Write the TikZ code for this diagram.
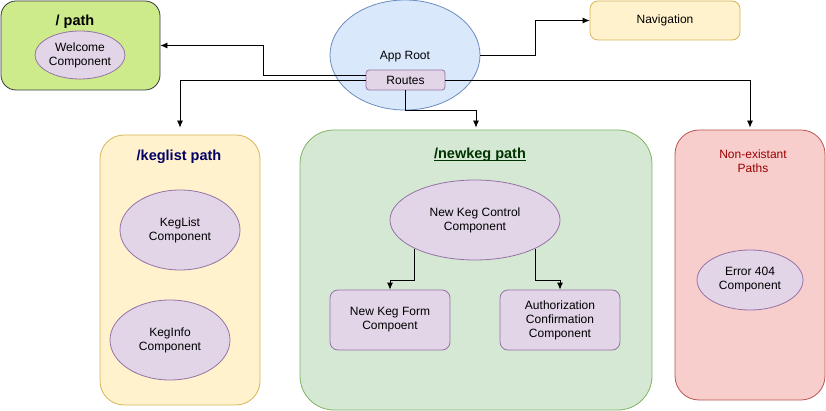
\documentclass[tikz,border=0pt]{standalone}
\usepackage{fontspec}
\setmainfont{Liberation Sans}
\usetikzlibrary{shapes.geometric,arrows.meta}

\definecolor{lime}{HTML}{CDEB8B}
\definecolor{limeline}{HTML}{36393D}
\definecolor{sky}{HTML}{DAE8FC}
\definecolor{skyline}{HTML}{6C8EBF}
\definecolor{lilac}{HTML}{E1D5E7}
\definecolor{lilacline}{HTML}{9673A6}
\definecolor{sand}{HTML}{FFF2CC}
\definecolor{sandline}{HTML}{D6B656}
\definecolor{mint}{HTML}{D5E8D4}
\definecolor{mintline}{HTML}{82B366}
\definecolor{rose}{HTML}{F8CECC}
\definecolor{roseline}{HTML}{B85450}

\tikzset{
  group/.style={draw, line width=0.8pt, inner sep=0pt},
  comp/.style={ellipse, draw=lilacline, fill=lilac, line width=0.8pt, inner sep=0pt, align=center},
  compbox/.style={draw=lilacline, fill=lilac, line width=0.8pt, rounded corners=8pt, inner sep=0pt, align=center},
  title/.style={font=\fontsize{14.5}{16}\selectfont\bfseries, align=center},
  link/.style={-{Latex[length=7pt,width=6pt]}, line width=0.8pt}
}

\begin{document}
\begin{tikzpicture}[x=1pt,y=-1pt,font=\fontsize{12}{14}\selectfont]
\useasboundingbox (0,0) rectangle (826,411);
% groups
\node[group, draw=limeline, fill=lime, rounded corners=15pt, minimum width=159pt, minimum height=89pt] (slash) at (80.5,45.5) {};
\node[group, draw=sandline, fill=sand, rounded corners=24pt, minimum width=160pt, minimum height=270pt] (keglist) at (180,270) {};
\node[group, draw=mintline, fill=mint, rounded corners=34pt, minimum width=352pt, minimum height=280pt] (newkeg) at (476,270) {};
\node[group, draw=roseline, fill=rose, rounded corners=24pt, minimum width=150pt, minimum height=270pt] (nonex) at (750,265) {};
\node[title] (slashT) at (75,22) {/ path};
\node[title, text=blue!40!black] (keglistT) at (179,157) {/keglist path};
\node[title, text=green!20!black] (newkegT) at (480,160) {\underline{\smash{/newkeg path}}};
\node[align=center, text=red!60!black] (nonexT) at (753,161) {Non-existant\\Paths};
% top
\node[ellipse, draw=skyline, fill=sky, line width=0.8pt, minimum width=150pt, minimum height=110pt, inner sep=0pt] (root) at (405,55) {};
\node (rootT) at (405,57) {App Root};
\node[compbox, rounded corners=3pt, minimum width=79pt, minimum height=20pt] (routes) at (405.5,80) {Routes};
\node[group, draw=sandline, fill=sand, rounded corners=8pt, minimum width=150pt, minimum height=39pt] (nav) at (665,20.5) {\raisebox{-1pt}{Navigation}};
% components
\node[comp, minimum width=90pt, minimum height=48pt] (welcome) at (80,55) {Welcome\\Component};
\node[comp, minimum width=120pt, minimum height=80pt] (kegl) at (180,230) {KegList\\Component};
\node[comp, minimum width=120pt, minimum height=80pt] (kegi) at (170,340) {KegInfo\\Component};
\node[comp, minimum width=170pt, minimum height=80pt] (ctrl) at (475,220) {New Keg Control\\Component};
\node[compbox, minimum width=120pt, minimum height=60pt] (form) at (390,320) {New Keg Form\\Compoent};
\node[compbox, minimum width=120pt, minimum height=60pt] (auth) at (560,320) {Authorization\\Confirmation\\Component};
\node[comp, minimum width=106pt, minimum height=60pt] (err) at (750,280) {Error 404\\Component};
% links
\draw[link] (root.east) -- ++(55,0) |- (nav.west);
\draw[link] ([yshift=5pt]routes.west) -- ++(-102,0) |- (slash.east);
\draw[link, shorten >=7pt] (routes.west) -| (keglist.north);
\draw[link, shorten >=2pt] (routes.south) -- ++(0,20) -| (newkeg.north);
\draw[link, shorten >=2pt] (routes.east) -| (nonex.north);
\draw[link] (ctrl.south west) -- ++(0,32) -| (form.north);
\draw[link] (ctrl.south east) -- ++(0,32) -| (auth.north);
\end{tikzpicture}
\end{document}
